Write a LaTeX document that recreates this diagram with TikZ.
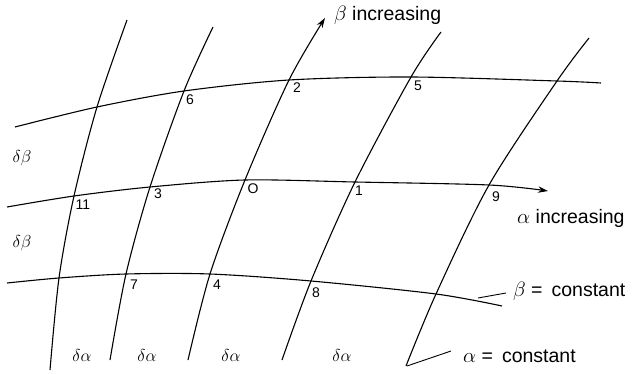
\documentclass[tikz,border=0pt]{standalone}
\usepackage{fontspec}
\setmainfont{Liberation Sans}
\usetikzlibrary{arrows.meta}
\begin{document}
\begin{tikzpicture}[x=1pt,y=-1pt,
  curve/.style={line width=1.1pt,line join=round},
  arr/.style={-{Stealth[length=10pt,width=6.5pt]}},
  num/.style={font=\fontsize{14}{14}\selectfont,inner sep=0pt},
  dlab/.style={font=\fontsize{19}{19}\selectfont,inner sep=0pt},
  lbl/.style={font=\fontsize{19.5}{19.5}\selectfont,inner sep=0pt,anchor=west},
  leader/.style={line width=0.9pt}]
\useasboundingbox (0,0) rectangle (634,374);
% grid intersections
\coordinate (c11) at (97,107);  \coordinate (c21) at (184,91);  \coordinate (c31) at (289,80);
\coordinate (c41) at (411,77);  \coordinate (c51) at (557,81);
\coordinate (c12) at (74,196);  \coordinate (c22) at (150,187); \coordinate (c32) at (245,180);
\coordinate (c42) at (355,182); \coordinate (c52) at (489,185);
\coordinate (c13) at (59,278);  \coordinate (c23) at (126,274); \coordinate (c33) at (210,274);
\coordinate (c43) at (311,281); \coordinate (c53) at (436,294);
% alpha = constant curves
\draw[curve] plot[smooth] coordinates {(127,20) (97,107) (74,196) (59,278) (50,370)};
\draw[curve] plot[smooth] coordinates {(213,27) (184,91) (150,187) (126,274) (110,360)};
\draw[curve,arr] plot[smooth] coordinates {(188,360) (210,274) (245,180) (289,80) (325,18)};
\draw[curve] plot[smooth] coordinates {(441,32) (411,77) (355,182) (311,281) (282,360)};
\draw[curve] plot[smooth] coordinates {(589,38) (557,81) (489,185) (436,294) (406,366)};
% beta = constant curves
\draw[curve] plot[smooth] coordinates {(15,127) (97,107) (184,91) (289,80) (411,77) (557,81) (601,83)};
\draw[curve,arr] plot[smooth] coordinates {(7,207) (74,196) (150,187) (245,180) (355,182) (489,185) (548,191)};
\draw[curve] plot[smooth] coordinates {(7,283) (59,278) (126,274) (210,274) (311,281) (436,294) (502,306)};
% point numbers
\node[num] (n6) at (190,100) {6};
\node[num] (n2) at (297,88) {2};
\node[num] (n5) at (418,86) {5};
\node[num] (n11) at (83,205) {11};
\node[num] (n3) at (158,194) {3};
\node[num] (n0) at (253,189) {O};
\node[num] (n1) at (359,191) {1};
\node[num] (n9) at (496,197) {9};
\node[num] (n7) at (134,285) {7};
\node[num] (n4) at (217,285) {4};
\node[num] (n8) at (316,293) {8};
% increments
\node[dlab] (db1) at (22,158) {$\delta\beta$};
\node[dlab] (db2) at (22,243) {$\delta\beta$};
\node[dlab] (da1) at (82,355) {$\delta\alpha$};
\node[dlab] (da2) at (147,355) {$\delta\alpha$};
\node[dlab] (da3) at (231,355) {$\delta\alpha$};
\node[dlab] (da4) at (342,355) {$\delta\alpha$};
% labels
\node[lbl] (binc) at (334,15) {$\beta$ increasing};
\node[lbl] (ainc) at (517,218) {$\alpha$ increasing};
\node[lbl] (bconst) at (513,291) {$\beta$ =\hspace{9pt}constant};
\node[lbl] (aconst) at (463,356) {$\alpha$ =\hspace{9pt}constant};
\coordinate (lb) at (478,298);
\coordinate (la) at (407,366);
\draw[leader] (bconst.west) ++(-7,2) -- (lb);
\draw[leader] (aconst.west) ++(-12,-5) -- (la);
\end{tikzpicture}
\end{document}
